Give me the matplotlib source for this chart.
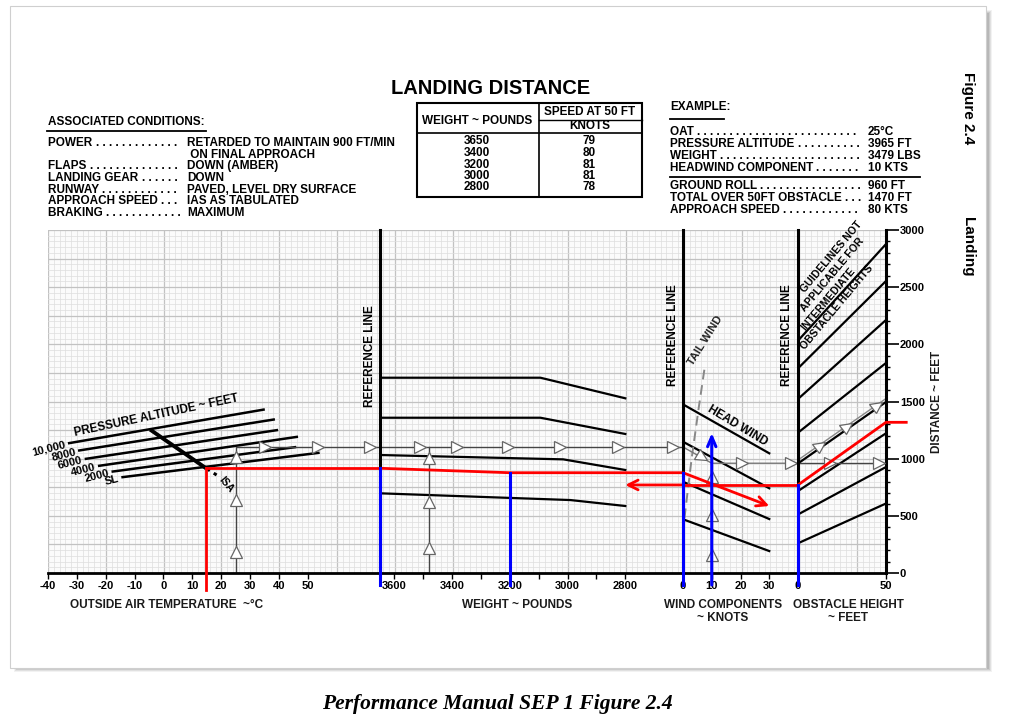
import matplotlib
matplotlib.use("Agg")
import matplotlib.pyplot as plt
from matplotlib.markers import MarkerStyle
from matplotlib.transforms import Affine2D
from matplotlib.patches import Rectangle

plt.rcParams['font.family'] = ['Liberation Sans', 'DejaVu Sans']
plt.rcParams['axes.unicode_minus'] = False

# ---- data ----
temp_ticks = [-40, -30, -20, -10, 0, 10, 20, 30, 40, 50]
weight_ticks = [3600, 3400, 3200, 3000, 2800]
weight_minor = [3500, 3300, 3100, 2900]
wind_ticks = [0, 10, 20, 30]
obst_ticks = [0, 50]
dist_ticks = [0, 500, 1000, 1500, 2000, 2500, 3000]

# pressure altitude lines (temp C -> distance ft equivalent)
pa_labels = ['10,000', '8000', '6000', '4000', '2000', 'SL']
pa_t0 = [-33.1, -29.6, -27.3, -22.7, -18.0, -14.6]
pa_d0 = [1134, 1070, 997, 936, 886, 837]
pa_t1 = [35.1, 38.6, 39.7, 46.6, 46.0, 54.1]
pa_d1 = [1431, 1344, 1251, 1192, 1102, 1052]
isa_t = [-4.1, 14.3]
isa_d = [1245, 924]
isa_dash_t = [14.3, 18.4]
isa_dash_d = [924, 857]

# weight guide lines
wt_x = [3650, 3094, 2800]
wt_lines = [[1708, 1708, 1528], [1358, 1358, 1216]]
wt_x2 = [[3650, 3015, 2800], [3650, 2990, 2800]]
wt_lines2 = [[1032, 994, 901], [697, 638, 586]]

# wind guide lines (0 -> 30 kts)
wind_x = [0, 30]
wind_lines = [[1475, 1047], [1148, 741], [798, 472], [470, 192]]
tail_x = [0.5, 3.0, 5.5, 7.5]
tail_d = [480, 1000, 1450, 1790]

# obstacle lines (0 -> 50 ft)
obst_x = [0, 50]
obst_left = [2032, 1790, 1522, 1227, 958, 717, 512, 260]
obst_right = [2877, 2554, 2213, 1837, 1496, 1222, 927, 608]

# example path
ex_temp = 14.6
ex_d_temp = 918
ex_w = [3650, 3200, 2600]
ex_d_w = [916, 877, 877]
ex_wind_end = (30, 586)
ex_ret = 770
ex_obst_x = [0, 50, 61.5]
ex_obst_d = [770, 1318, 1318]
blue_w = [3650, 3200]
blue_w_top = [916, 877]
blue_below = -105
blue_arrow_top = 1224

# printed example (white triangles)
guide_d = 1102
guide_temp = 25
guide_temp_up = [186, 638, 1017]
guide_temp_right = [35.1, 53.4, 71.4]
guide_w = 3479
guide_w_up = [219, 624, 1003]
guide_w_right = [3511, 3384, 3205, 3025, 2824, 2635]
guide_wind_d = 960
guide_wind_right = [20.4, 37.5]
guide_wind_up = [157, 507, 842]
guide_obst_right = [18.4, 46]
guide_obst_diag = [12.6, 28, 45]

tbl_weights = ['3650', '3400', '3200', '3000', '2800']
tbl_speeds = ['79', '80', '81', '81', '78']

cond_labels = ['POWER', '', 'FLAPS', 'LANDING GEAR', 'RUNWAY', 'APPROACH SPEED', 'BRAKING']
cond_values = ['RETARDED TO MAINTAIN 900 FT/MIN', ' ON FINAL APPROACH', 'DOWN (AMBER)', 'DOWN',
               'PAVED, LEVEL DRY SURFACE', 'IAS AS TABULATED', 'MAXIMUM']
ex_labels = ['OAT', 'PRESSURE ALTITUDE', 'WEIGHT', 'HEADWIND COMPONENT']
ex_values = ['25\u00b0C', '3965 FT', '3479 LBS', '10 KTS']
res_labels = ['GROUND ROLL', 'TOTAL OVER 50FT OBSTACLE', 'APPROACH SPEED']
res_values = ['960 FT', '1470 FT', '80 KTS']
note_lines = ['GUIDELINES NOT', 'APPLICABLE FOR', 'INTERMEDIATE', 'OBSTACLE HEIGHTS']

W, H = 1013, 726
fig = plt.figure(figsize=(W / 100, H / 100), dpi=100)


def rect(x0, y0, x1, y1):
    return [x0 / W, 1 - y1 / H, (x1 - x0) / W, (y1 - y0) / H]


# page in pixel coordinates
page = fig.add_axes([0, 0, 1, 1])
page.set_xlim(0, W)
page.set_ylim(H, 0)
page.axis('off')
for i, a in enumerate([0.10, 0.16, 0.22, 0.30]):
    page.add_patch(Rectangle((14 + i, 10 + i), 978 - 2 * i, 662 - 2 * i, color='#888888', alpha=a, lw=0))
page.add_patch(Rectangle((10, 6), 976, 662, facecolor='white', edgecolor='#cfcfcf', lw=0.8))

# background grid
grid = fig.add_axes(rect(48, 230, 886, 573))
grid.set_xlim(-40, 250)
grid.set_ylim(0, 3000)
grid.set_xticks(range(-40, 251, 20))
grid.set_xticks(range(-40, 251, 2), minor=True)
grid.set_yticks(range(0, 3001, 250))
grid.set_yticks(range(0, 3001, 50), minor=True)
grid.grid(which='minor', color='#dedede', lw=0.5)
grid.grid(which='major', color='#c2c2c2', lw=0.9)
grid.tick_params(which='both', length=0, labelbottom=False, labelleft=False)
for s in grid.spines.values():
    s.set_visible(False)
grid.patch.set_facecolor('#fbfbfb')

S = 8.5   # body text size
TS = 8    # tick label size


def panel(x0, x1, xlim):
    ax = fig.add_axes(rect(x0, 230, x1, 573))
    ax.set_xlim(*xlim)
    ax.set_ylim(0, 3000)
    ax.patch.set_alpha(0)
    for s in ['top', 'right', 'left']:
        ax.spines[s].set_visible(False)
    ax.spines['bottom'].set_linewidth(2)
    ax.set_yticks([])
    ax.tick_params(axis='x', direction='out', length=4, width=1, pad=2, labelsize=TS)
    return ax


ax_t = panel(48, 380, (-40, 75))
ax_w = panel(380, 683, (3650, 2600))
ax_k = panel(683, 798, (0, 40))
ax_o = panel(798, 886, (0, 50))

ax_t.set_xticks(temp_ticks)
ax_w.set_xticks(weight_ticks)
ax_w.set_xticks(weight_minor, minor=True)
ax_w.tick_params(axis='x', which='minor', length=4, width=1)
ax_k.set_xticks(wind_ticks)
ax_o.set_xticks(obst_ticks)
for ax in (ax_t, ax_w, ax_k, ax_o):
    for lab in ax.get_xticklabels():
        lab.set_fontweight('bold')
for ax in (ax_w, ax_k, ax_o):
    ax.spines['left'].set_visible(True)
    ax.spines['left'].set_linewidth(2.2)

ax_o.spines['right'].set_visible(True)
ax_o.spines['right'].set_linewidth(2.2)
ax_o.yaxis.tick_right()
ax_o.set_yticks(dist_ticks)
ax_o.set_yticks(range(0, 3001, 100), minor=True)
ax_o.tick_params(axis='y', which='major', direction='out', length=9, width=1.2, pad=1, labelsize=TS)
ax_o.tick_params(axis='y', which='minor', direction='out', length=3, width=1)
for lab in ax_o.get_yticklabels():
    lab.set_fontweight('bold')

# ---- temperature panel ----
for t0, d0, t1, d1 in zip(pa_t0, pa_d0, pa_t1, pa_d1):
    ax_t.plot([t0, t1], [d0, d1], color='black', lw=1.8, solid_capstyle='butt')
ax_t.plot(isa_t, isa_d, color='black', lw=2.8)
ax_t.plot(isa_dash_t, isa_dash_d, color='black', lw=2.2, ls=(0, (2, 1.5)))
for lab, t0, d0 in zip(pa_labels, pa_t0, pa_d0):
    ax_t.text(t0 - 0.8, d0 - 8, lab, ha='right', va='center', rotation=14,
              rotation_mode='anchor', fontsize=8, fontweight='bold', clip_on=False)
ax_t.text(-2.5, 1372, 'PRESSURE ALTITUDE ~ FEET', rotation=12, ha='center', va='center',
          rotation_mode='anchor', fontsize=8.5, fontweight='bold')
ax_t.text(21.8, 770, 'ISA', rotation=-50, ha='center', va='center', fontsize=7.5, fontweight='bold')

GC = '#444444'
TRI = dict(ms=8.5, mfc='white', mec='#666666', mew=0.9, ls='none', zorder=4)
ax_t.plot([guide_temp, guide_temp, 75], [0, guide_d, guide_d], color=GC, lw=1)
ax_t.plot([guide_temp] * 3, guide_temp_up, marker='^', **TRI)
ax_t.plot(guide_temp_right, [guide_d] * 3, marker='>', **TRI)

ax_t.plot([ex_temp, ex_temp], [-149, ex_d_temp], color='red', lw=2, clip_on=False, zorder=5)
ax_t.plot([ex_temp, 75], [ex_d_temp, ex_d_temp], color='red', lw=2, zorder=5)

# ---- weight panel ----
for d in wt_lines:
    ax_w.plot(wt_x, d, color='black', lw=1.6)
for x, d in zip(wt_x2, wt_lines2):
    ax_w.plot(x, d, color='black', lw=1.6)
ax_w.plot([3650, 2600], [guide_d, guide_d], color=GC, lw=1)
ax_w.plot([guide_w, guide_w], [0, guide_d], color=GC, lw=1)
ax_w.plot([guide_w] * 3, guide_w_up, marker='^', **TRI)
ax_w.plot(guide_w_right, [guide_d] * len(guide_w_right), marker='>', **TRI)

ax_w.plot(ex_w, ex_d_w, color='red', lw=2, zorder=5)
ax_w.annotate('', xy=(2800, ex_ret), xytext=(2600, ex_ret),
              arrowprops=dict(arrowstyle='->,head_length=0.7,head_width=0.35', color='red', lw=2,
                              shrinkA=0, shrinkB=0), zorder=5)
for x, top in zip(blue_w, blue_w_top):
    ax_w.plot([x, x], [blue_below, top], color='blue', lw=2.2, clip_on=False, zorder=6)

REF = dict(rotation=90, ha='center', va='center', fontsize=8.5, fontweight='bold', clip_on=False)
ax_w.text(3685, 1900, 'REFERENCE LINE', **REF)

# ---- wind panel ----
for d in wind_lines:
    ax_k.plot(wind_x, d, color='black', lw=1.6)
ax_k.plot(tail_x, tail_d, color='#888888', lw=1.4, ls=(0, (5, 3)))
ax_k.text(7.7, 2035, 'TAIL WIND', rotation=58, ha='center', va='center', fontsize=8,
          fontweight='bold', color='#222222')
ax_k.text(19.0, 1290, 'HEAD WIND', rotation=-31, ha='center', va='center', fontsize=8.5,
          fontweight='bold')
ax_k.text(-3.5, 2080, 'REFERENCE LINE', **REF)

ax_k.plot([0, 10, 40], [guide_d, guide_wind_d, guide_wind_d], color='#777777', lw=1)
ax_k.plot([6.5], [1013], marker=MarkerStyle('>', transform=Affine2D().rotate_deg(-29)), **TRI)
ax_k.plot(guide_wind_right, [guide_wind_d] * 2, marker='>', **TRI)
ax_k.plot([10] * 3, guide_wind_up, marker='^', **TRI)

ax_k.annotate('', xy=ex_wind_end, xytext=(0, ex_d_w[-1]),
              arrowprops=dict(arrowstyle='->,head_length=0.7,head_width=0.35', color='red', lw=2,
                              shrinkA=0, shrinkB=0), zorder=5)
ax_k.plot([0, 40], [ex_ret, ex_ret], color='red', lw=2, zorder=5)
ax_k.plot([0, 0], [blue_below, ex_d_w[-1]], color='blue', lw=2.2, clip_on=False, zorder=6)
ax_k.annotate('', xy=(10, blue_arrow_top), xytext=(10, blue_below), annotation_clip=False,
              arrowprops=dict(arrowstyle='->,head_length=0.7,head_width=0.3', color='blue', lw=2.2,
                              shrinkA=0, shrinkB=0), zorder=6)

# ---- obstacle panel ----
for d0, d1 in zip(obst_left, obst_right):
    ax_o.plot(obst_x, [d0, d1], color='black', lw=1.6)
ax_o.plot(obst_x, [obst_left[4] + 30, obst_right[4] + 30], color='#888888', lw=1)
ax_o.plot([0, 50], [guide_wind_d, guide_wind_d], color=GC, lw=1)
ax_o.plot(guide_obst_right, [guide_wind_d] * 2, marker='>', **TRI)
diag_d = [obst_left[4] + 30 + (obst_right[4] - obst_left[4]) * x / 50 for x in guide_obst_diag]
ax_o.plot(guide_obst_diag, diag_d, marker=MarkerStyle('>', transform=Affine2D().rotate_deg(35)), **TRI)
ax_o.plot(ex_obst_x, ex_obst_d, color='red', lw=2, clip_on=False, zorder=5)
ax_o.plot([0, 0], [blue_below, ex_ret], color='blue', lw=2.2, clip_on=False, zorder=6)
ax_o.text(-6.5, 2080, 'REFERENCE LINE', **REF)
for i, txt in enumerate(note_lines):
    ax_o.text(805, 293 + i * 19, txt, transform=page.transData, rotation=50, rotation_mode='anchor',
              ha='left', va='baseline', fontsize=7.6, fontweight='bold', clip_on=False)

# ---- axis titles ----
B = dict(fontsize=S, fontweight='bold', color='#1a1a1a', ha='center', va='center')
page.text(167, 605, 'OUTSIDE AIR TEMPERATURE  ~\u00b0C', **B)
page.text(517, 605, 'WEIGHT ~ POUNDS', **B)
page.text(723, 605, 'WIND COMPONENTS', **B)
page.text(723, 618, '~ KNOTS', **B)
page.text(848, 605, 'OBSTACLE HEIGHT', **B)
page.text(848, 618, '~ FEET', **B)
page.text(937, 402, 'DISTANCE ~ FEET', rotation=90, **B)

page.text(968, 108, 'Figure 2.4', rotation=-90, ha='center', va='center', fontsize=11, fontweight='bold')
page.text(968, 247, 'Landing', rotation=-90, ha='center', va='center', fontsize=11, fontweight='bold')

# ---- header ----
page.text(491, 88, 'LANDING DISTANCE', ha='center', va='center', fontsize=14.5, fontweight='bold')

renderer = fig.canvas.get_renderer()
dot_w = page.text(0, 0, '. ' * 10, fontsize=S, fontweight='bold').get_window_extent(renderer).width / 10
page.texts[-1].remove()


def dotted(x0, xv, y, label, value):
    if label:
        t = page.text(x0, y, label + ' ', ha='left', va='center', fontsize=S, fontweight='bold')
        x_end = t.get_window_extent(renderer).x1
        n = int((xv - 3 - x_end) / dot_w)
        page.text(x_end, y, '. ' * n, ha='left', va='center', fontsize=S, fontweight='bold')
    page.text(xv, y, value, ha='left', va='center', fontsize=S, fontweight='bold')


page.text(48, 122, 'ASSOCIATED CONDITIONS:', ha='left', va='center', fontsize=S, fontweight='bold')
page.plot([47, 206], [131, 131], color='black', lw=1.3)
for i, (lab, val) in enumerate(zip(cond_labels, cond_values)):
    dotted(48, 187, 143 + i * 11.7, lab, val)

page.text(670, 107, 'EXAMPLE:', ha='left', va='center', fontsize=S, fontweight='bold')
page.plot([670, 724], [119, 119], color='black', lw=1.3)
for i, (lab, val) in enumerate(zip(ex_labels, ex_values)):
    dotted(670, 868, 132 + i * 11.9, lab, val)
page.plot([670, 920], [177, 177], color='black', lw=1.3)
for i, (lab, val) in enumerate(zip(res_labels, res_values)):
    dotted(670, 868, 186 + i * 11.9, lab, val)

# table
page.add_patch(Rectangle((416.5, 103), 225.5, 93.5, fill=False, ec='black', lw=1.5))
page.plot([538.5, 538.5], [103, 196.5], color='black', lw=1.2)
page.plot([416.5, 642], [133, 133], color='black', lw=1.2)
page.plot([538.5, 642], [119.5, 119.5], color='black', lw=1)
page.text(477, 121, 'WEIGHT ~ POUNDS', ha='center', va='center', fontsize=S, fontweight='bold')
page.text(590, 112, 'SPEED AT 50 FT', ha='center', va='center', fontsize=S, fontweight='bold')
page.text(590, 126, 'KNOTS', ha='center', va='center', fontsize=S, fontweight='bold')
for i, (w, s) in enumerate(zip(tbl_weights, tbl_speeds)):
    page.text(477, 141.5 + i * 11.5, w, ha='center', va='center', fontsize=S, fontweight='bold')
    page.text(589, 141.5 + i * 11.5, s, ha='center', va='center', fontsize=S, fontweight='bold')

page.text(497, 704, 'Performance Manual SEP 1 Figure 2.4', ha='center', va='center',
          fontsize=15.5, fontweight='bold', style='italic', family=['Liberation Serif', 'DejaVu Serif'])

fig.savefig('out.png', dpi=100)
